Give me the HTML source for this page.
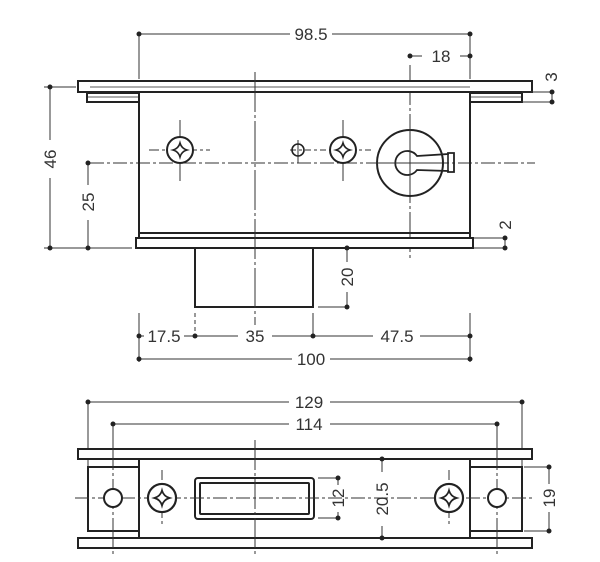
<!DOCTYPE html>
<html><head><meta charset="utf-8"><style>
html,body{margin:0;padding:0;background:#fff;}
svg{display:block;}
text{font-family:"Liberation Sans",sans-serif;font-size:17px;fill:#333;}
</style></head><body>
<svg width="600" height="562" viewBox="0 0 600 562" xmlns="http://www.w3.org/2000/svg">
<defs>
<g id="scr"><circle r="13" fill="#fff" stroke="#222" stroke-width="2"/><path d="M0,-7 Q1.5,-1.5 7,0 Q1.5,1.5 0,7 Q-1.5,1.5 -7,0 Q-1.5,-1.5 0,-7Z" fill="none" stroke="#222" stroke-width="1.6"/></g>
</defs>
<g stroke="#333" stroke-width="1" fill="none">
<line x1="90" y1="163" x2="535" y2="163" stroke-dasharray="14,3,3,3"/>
<line x1="410" y1="65" x2="410" y2="258" stroke-dasharray="40,3,3,3"/>
<line x1="149" y1="150" x2="210" y2="150" stroke-dasharray="10,3,3,3"/>
<line x1="180" y1="120" x2="180" y2="181"/>
<line x1="290" y1="150" x2="373" y2="150" stroke-dasharray="6,3,3,3"/>
<line x1="343" y1="120" x2="343" y2="181"/>
<line x1="298" y1="140" x2="298" y2="163"/>
</g>
<g stroke="#222" stroke-width="2" fill="#fff">
<rect x="78" y="81" width="454" height="11"/>
<rect x="87" y="93" width="52" height="9"/>
<rect x="470" y="93" width="52" height="9"/>
<rect x="139" y="92" width="331" height="146" fill="none"/>
<line x1="139" y1="233" x2="470" y2="233"/>
<rect x="136" y="238" width="337" height="10"/>
<rect x="195" y="248" width="118" height="59" fill="none"/>
</g>
<line x1="90" y1="87" x2="470" y2="87" stroke="#222" stroke-width="0.8"/>
<line x1="87" y1="97" x2="139" y2="97" stroke="#222" stroke-width="0.8"/>
<line x1="470" y1="97" x2="522" y2="97" stroke="#222" stroke-width="0.8"/>
<line x1="255" y1="72" x2="255" y2="325" stroke="#333" stroke-width="1" stroke-dasharray="40,3,3,3"/>
<use href="#scr" x="180" y="150"/>
<use href="#scr" x="343" y="150"/>
<circle cx="298" cy="150" r="6" fill="none" stroke="#222" stroke-width="1.6"/>
<circle cx="410" cy="163" r="33" fill="none" stroke="#222" stroke-width="2"/>
<path d="M417,156 L448,154 L448,153 L454,153 L454,172 L448,172 L448,171 L417,170 A12,12 0 1 1 417,156Z" fill="none" stroke="#222" stroke-width="1.8"/>
<line x1="448" y1="154" x2="448" y2="171" stroke="#222" stroke-width="1.6"/>
<line x1="376" y1="163" x2="445" y2="163" stroke="#333" stroke-dasharray="14,3,3,3"/>
<line x1="410" y1="128" x2="410" y2="198" stroke="#333" stroke-dasharray="14,3,3,3"/>

<g stroke="#333" stroke-width="1" fill="none">
<line x1="139" y1="34" x2="290" y2="34"/><line x1="332" y1="34" x2="470" y2="34"/>
<line x1="139" y1="34" x2="139" y2="79"/><line x1="470" y1="34" x2="470" y2="79"/>
<line x1="410" y1="56" x2="422" y2="56"/><line x1="460" y1="56" x2="470" y2="56"/>
<line x1="522" y1="92" x2="552" y2="92"/><line x1="522" y1="102" x2="552" y2="102"/><line x1="552" y1="92" x2="552" y2="102"/>
<line x1="474" y1="238" x2="505" y2="238"/><line x1="474" y1="248" x2="505" y2="248"/><line x1="505" y1="238" x2="505" y2="248"/>
<line x1="44" y1="87" x2="76" y2="87"/><line x1="44" y1="248" x2="132" y2="248"/>
<line x1="50" y1="87" x2="50" y2="140"/><line x1="50" y1="178" x2="50" y2="248"/>
<line x1="88" y1="163" x2="88" y2="185"/><line x1="88" y1="220" x2="88" y2="248"/>
<line x1="347" y1="248" x2="347" y2="262"/><line x1="347" y1="292" x2="347" y2="307"/><line x1="318" y1="307" x2="347" y2="307"/>
<line x1="139" y1="313" x2="139" y2="362"/><line x1="195" y1="313" x2="195" y2="336" stroke-dasharray="4,3"/><line x1="313" y1="313" x2="313" y2="336"/><line x1="470" y1="313" x2="470" y2="362"/>
<line x1="139" y1="336" x2="144" y2="336"/><line x1="184" y1="336" x2="238" y2="336"/><line x1="272" y1="336" x2="373" y2="336"/><line x1="420" y1="336" x2="470" y2="336"/>
<line x1="139" y1="359" x2="292" y2="359"/><line x1="330" y1="359" x2="470" y2="359"/>
</g>
<g fill="#222">
<circle cx="139" cy="34" r="2.5"/><circle cx="470" cy="34" r="2.5"/><circle cx="410" cy="56" r="2.5"/><circle cx="470" cy="56" r="2.5"/>
<circle cx="552" cy="92" r="2.5"/><circle cx="552" cy="102" r="2.5"/><circle cx="505" cy="238" r="2.5"/><circle cx="505" cy="248" r="2.5"/>
<circle cx="50" cy="87" r="2.5"/><circle cx="50" cy="248" r="2.5"/><circle cx="88" cy="163" r="2.5"/><circle cx="88" cy="248" r="2.5"/>
<circle cx="347" cy="248" r="2.5"/><circle cx="347" cy="307" r="2.5"/>
<circle cx="139" cy="336" r="2.5"/><circle cx="195" cy="336" r="2.5"/><circle cx="313" cy="336" r="2.5"/><circle cx="470" cy="336" r="2.5"/>
<circle cx="139" cy="359" r="2.5"/><circle cx="470" cy="359" r="2.5"/>
</g>
<text x="311" y="40" text-anchor="middle">98.5</text>
<text x="441" y="62" text-anchor="middle">18</text>
<text transform="translate(557,77) rotate(-90)" text-anchor="middle">3</text>
<text transform="translate(511,225) rotate(-90)" text-anchor="middle">2</text>
<text transform="translate(56,159) rotate(-90)" text-anchor="middle">46</text>
<text transform="translate(94,202) rotate(-90)" text-anchor="middle">25</text>
<text transform="translate(353,277) rotate(-90)" text-anchor="middle">20</text>
<text x="164" y="342" text-anchor="middle">17.5</text>
<text x="255" y="342" text-anchor="middle">35</text>
<text x="397" y="342" text-anchor="middle">47.5</text>
<text x="311" y="365" text-anchor="middle">100</text>

<g stroke="#333" stroke-width="1" fill="none">
<line x1="88" y1="402" x2="88" y2="466"/><line x1="522" y1="402" x2="522" y2="466"/>
<line x1="88" y1="402" x2="289" y2="402"/><line x1="330" y1="402" x2="522" y2="402"/>
<line x1="113" y1="424" x2="289" y2="424"/><line x1="330" y1="424" x2="497" y2="424"/>
<line x1="113" y1="424" x2="113" y2="448"/><line x1="497" y1="424" x2="497" y2="448"/>
</g>
<g stroke="#222" stroke-width="2" fill="#fff">
<rect x="78" y="449" width="454" height="10"/>
<rect x="78" y="538" width="454" height="10"/>
<rect x="139" y="459" width="331" height="79" fill="none"/>
<rect x="88" y="467" width="51" height="64"/>
<rect x="470" y="467" width="52" height="64"/>
<rect x="195" y="478" width="119" height="41" rx="3"/>
<rect x="200" y="483" width="109" height="31" rx="1"/>
</g>
<g stroke="#333" stroke-width="1" fill="none">
<line x1="75" y1="498" x2="535" y2="498" stroke-dasharray="14,3,3,3"/>
<line x1="255" y1="440" x2="255" y2="556" stroke-dasharray="30,3,3,3"/>
<line x1="113" y1="440" x2="113" y2="556" stroke-dasharray="30,3,3,3"/>
<line x1="497" y1="440" x2="497" y2="556" stroke-dasharray="30,3,3,3"/>
<line x1="162" y1="470" x2="162" y2="526" stroke-dasharray="10,3,3,3"/>
<line x1="449" y1="470" x2="449" y2="526" stroke-dasharray="10,3,3,3"/>
</g>
<circle cx="113" cy="498" r="9" fill="#fff" stroke="#222" stroke-width="2"/>
<circle cx="497" cy="498" r="9" fill="#fff" stroke="#222" stroke-width="2"/>
<use href="#scr" x="162" y="498" transform="translate(162,498) scale(1.08) translate(-162,-498)"/>
<use href="#scr" x="449" y="498" transform="translate(449,498) scale(1.08) translate(-449,-498)"/>
<g stroke="#333" stroke-width="1" fill="none">
<line x1="318" y1="478" x2="338" y2="478"/><line x1="318" y1="518" x2="338" y2="518"/>
<line x1="338" y1="478" x2="338" y2="485"/><line x1="338" y1="512" x2="338" y2="518"/>
<line x1="382" y1="459" x2="382" y2="472"/><line x1="382" y1="526" x2="382" y2="538"/>
<line x1="524" y1="467" x2="549" y2="467"/><line x1="524" y1="531" x2="549" y2="531"/>
<line x1="549" y1="467" x2="549" y2="484"/><line x1="549" y1="512" x2="549" y2="531"/>
</g>
<g fill="#222">
<circle cx="88" cy="402" r="2.5"/><circle cx="522" cy="402" r="2.5"/><circle cx="113" cy="424" r="2.5"/><circle cx="497" cy="424" r="2.5"/>
<circle cx="338" cy="478" r="2.5"/><circle cx="338" cy="518" r="2.5"/><circle cx="382" cy="459" r="2.5"/><circle cx="382" cy="538" r="2.5"/>
<circle cx="549" cy="467" r="2.5"/><circle cx="549" cy="531" r="2.5"/>
</g>
<text x="309" y="408" text-anchor="middle">129</text>
<text x="309" y="430" text-anchor="middle">114</text>
<text transform="translate(344,498) rotate(-90)" text-anchor="middle">12</text>
<text transform="translate(388,499) rotate(-90)" text-anchor="middle">20.5</text>
<text transform="translate(555,498) rotate(-90)" text-anchor="middle">19</text>
</svg>
</body></html>
